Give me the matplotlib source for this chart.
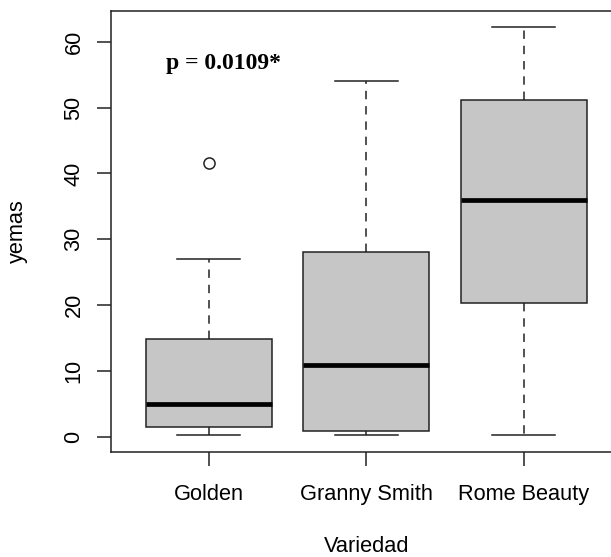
import matplotlib
matplotlib.use("Agg")
import matplotlib.pyplot as plt

categories = ["Golden", "Granny Smith", "Rome Beauty"]
whisker_low = [0.2, 0.2, 0.2]
q1 = [1.5, 0.8, 20.3]
median = [4.9, 10.9, 36.0]
q3 = [14.8, 28.1, 51.2]
whisker_high = [27.0, 54.0, 62.2]
outliers = [[41.6], [], []]
y_ticks = [0, 10, 20, 30, 40, 50, 60]
annotation = "p = 0.0109*"

stats = []
for i, name in enumerate(categories):
    stats.append(dict(label=name, whislo=whisker_low[i], q1=q1[i], med=median[i],
                      q3=q3[i], whishi=whisker_high[i], fliers=outliers[i]))

W, H = 611, 557
fig = plt.figure(figsize=(W / 100, H / 100), dpi=100)
left, right, top, bottom = 111, 621.7, 11.0, 451.7
ax = fig.add_axes([left / W, (H - bottom) / H, (right - left) / W, (bottom - top) / H])

lw = 1.1
ax.bxp(stats, positions=[1, 2, 3], widths=0.8, capwidths=0.4, patch_artist=True,
       boxprops=dict(facecolor="#c6c6c6", edgecolor="#222222", linewidth=lw),
       medianprops=dict(color="black", linewidth=3.4, solid_capstyle="butt"),
       whiskerprops=dict(color="#222222", linewidth=lw, linestyle=(0, (5.5, 4.5))),
       capprops=dict(color="#222222", linewidth=lw),
       flierprops=dict(marker="o", markerfacecolor="none", markeredgecolor="#222222",
                       markersize=8, markeredgewidth=1.1))

all_vals = whisker_low + whisker_high + [v for o in outliers for v in o]
lo, hi = min(all_vals), max(all_vals)
pad = 0.04 * (hi - lo)
ax.set_ylim(lo - pad, hi + pad)
ax.set_xlim(0.5 - 0.04 * 3, 3.5 + 0.04 * 3)

fs = 15.7
ax.set_yticks(y_ticks)
ax.set_yticklabels([str(t) for t in y_ticks], rotation=90, va="center", fontsize=fs,
                   family="Liberation Sans")
ax.set_xticks([1, 2, 3])
ax.set_xticklabels(categories, fontsize=fs, family="Liberation Sans")
ax.tick_params(axis="both", length=10, width=lw, color="#222222")
ax.tick_params(axis="y", pad=9)
ax.tick_params(axis="x", pad=13)
for s in ax.spines.values():
    s.set_linewidth(lw)
    s.set_color("#222222")

ax.set_xlabel("Variedad", fontsize=fs, family="Liberation Sans", va="baseline")
ax.xaxis.set_label_coords(0.5, (bottom - 552) / (bottom - top))
ax.set_ylabel("yemas", fontsize=fs, family="Liberation Sans", va="center")
ax.yaxis.set_label_coords((17 - left) / (right - left), 0.5)

ax.text(1.093, 56.75, annotation, ha="center", va="center", fontsize=17,
        fontweight="bold", family="Liberation Serif")

fig.savefig("out.png", dpi=100)
